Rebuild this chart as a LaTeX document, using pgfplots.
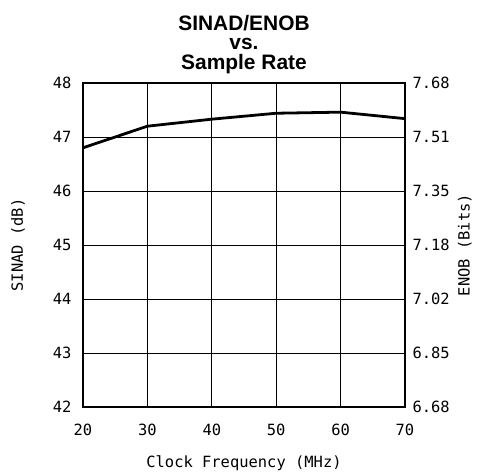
\documentclass[border=0pt]{standalone}
\usepackage{fontspec}
\setmainfont{Liberation Sans}
\newfontfamily\monofont{DejaVu Sans Mono}
\usepackage{pgfplots}
\pgfplotsset{compat=1.18}

\begin{document}
\begin{tikzpicture}
\pgfplotsset{
    every axis/.append style={
        scale only axis,
        width=322bp,
        height=324bp,
        xmin=20, xmax=70,
        ymin=42, ymax=48,
        xtick={20,30,40,50,60,70},
        ytick={42,43,44,45,46,47,48},
        major tick length=0pt,
        axis line style={line width=1.4pt},
        tick label style={font=\monofont\fontsize{15.5}{15.5}\selectfont},
        /pgf/number format/assume math mode=true,
        label style={font=\monofont\fontsize{15.5}{15.5}\selectfont},
    }
}
\begin{axis}[
    name=main,
    grid=major,
    grid style={black, line width=0.9pt},
    xticklabel style={yshift=-14bp},
    yticklabel style={xshift=-8bp},
    title={SINAD/ENOB\\vs.\\Sample Rate},
    title style={font=\bfseries\fontsize{21}{19.5}\selectfont, align=center, at={(axis description cs:0.5,1)}, anchor=south, yshift=0bp},
    xlabel={Clock Frequency (MHz)},
    xlabel style={at={(axis description cs:0.5,0)}, anchor=center, yshift=-56bp},
    ylabel={SINAD (dB)},
    ylabel style={at={(axis description cs:-0.202,0.5)}, anchor=center},
]
\addplot[black, line width=2.8pt] coordinates {
    (20,46.80) (30,47.20) (40,47.33) (50,47.44) (60,47.46) (70,47.34)
};
\end{axis}
\begin{axis}[
    axis x line=none,
    axis y line*=right,
    yticklabels={6.68,6.85,7.02,7.18,7.35,7.51,7.68},
    yticklabel style={xshift=4bp},
    ylabel={ENOB (Bits)},
    ylabel style={at={(axis description cs:1.186,0.5)}, anchor=center},
]
\end{axis}
\pgfresetboundingbox
\path ([xshift=-83bp,yshift=-66bp]main.south west) rectangle ([xshift=76bp,yshift=83bp]main.north east);
\end{tikzpicture}
\end{document}
